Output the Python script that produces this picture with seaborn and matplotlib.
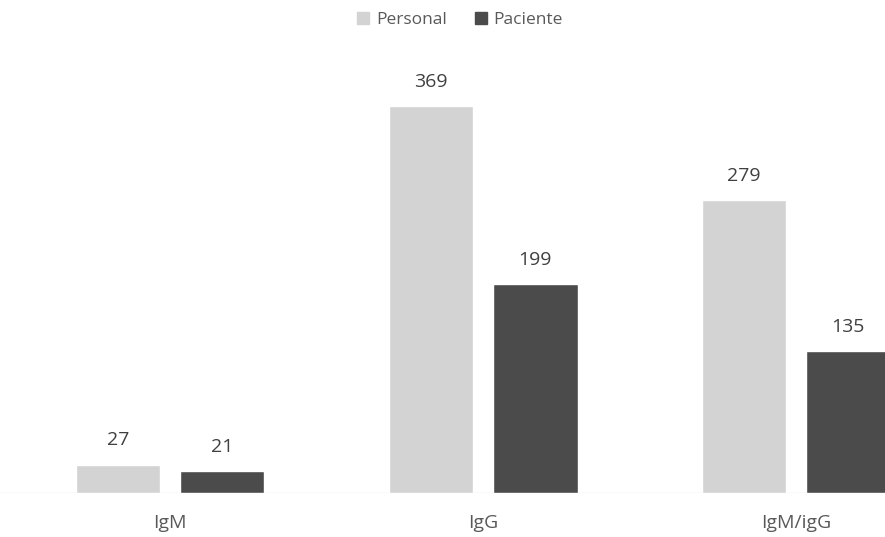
import matplotlib
matplotlib.use("Agg")
import matplotlib.pyplot as plt
import seaborn as sns
import pandas as pd
from matplotlib.patches import Patch

categories = ["IgM", "IgG", "IgM/igG"]
series_names = ["Personal", "Paciente"]
personal = [27, 369, 279]
paciente = [21, 199, 135]
colors = ["#d3d3d3", "#4b4b4b"]

df = pd.DataFrame({
    "cat": categories * 2,
    "serie": [series_names[0]] * 3 + [series_names[1]] * 3,
    "val": personal + paciente,
})

sns.set_style("white")
plt.rcParams["font.family"] = ["Open Sans", "DejaVu Sans"]

fig = plt.figure(figsize=(8.85, 5.37), dpi=100)
ax = fig.add_axes([0, 44 / 537, 1, 493 / 537])

sns.barplot(data=df, x="cat", y="val", hue="serie", hue_order=series_names,
            palette=colors, width=0.667, gap=0.19, ax=ax, legend=False,
            saturation=1, errorbar=None)

for cont in ax.containers:
    ax.bar_label(cont, padding=11, fontsize=14, color="#404040")

ax.set_xlim(-0.543, 2.284)
ax.set_ylim(0, 470)
ax.axhline(0, color="#e2e2e2", lw=1, zorder=0)
for s in ax.spines.values():
    s.set_visible(False)
ax.set_yticks([])
ax.set_xlabel("")
ax.set_ylabel("")
ax.tick_params(axis="x", length=0, pad=15, labelsize=14, labelcolor="#595959")

handles = [Patch(color=c, label=n) for c, n in zip(colors, series_names)]
fig.legend(handles=handles, loc="center", bbox_to_anchor=(460 / 885, 1 - 20 / 537),
           ncol=2, frameon=False, fontsize=12.5, labelcolor="#595959",
           handlelength=0.7, handleheight=0.7, handletextpad=0.4, columnspacing=1.6)

fig.savefig("out.png", dpi=100)
